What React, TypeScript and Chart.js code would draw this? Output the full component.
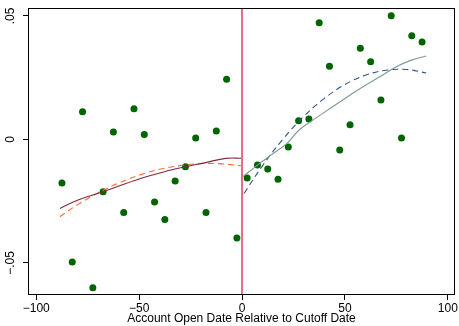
import React, { useEffect, useRef } from "react";
import { Chart, registerables } from "chart.js";

Chart.register(...registerables);

// Binned scatter (bin centres, mean outcome)
const binX = [
  -87.5, -82.5, -77.5, -72.5, -67.5, -62.5, -57.5, -52.5, -47.5, -42.5, -37.5, -32.5, -27.5, -22.5, -17.5, -12.5, -7.5, -2.5,
  2.5, 7.5, 12.5, 17.5, 22.5, 27.5, 32.5, 37.5, 42.5, 47.5, 52.5, 57.5, 62.5, 67.5, 72.5, 77.5, 82.5, 87.5,
];
const binY = [
  -0.0177, -0.0496, 0.0112, -0.0601, -0.0212, 0.003, -0.0296, 0.0124, 0.002, -0.0253, -0.0324, -0.0168, -0.0111, 0.0006, -0.0296, 0.0034, 0.0244, -0.0399,
  -0.0156, -0.0104, -0.012, -0.0161, -0.0031, 0.0075, 0.0083, 0.0472, 0.0296, -0.0043, 0.0059, 0.0369, 0.0314, 0.016, 0.0501, 0.0006, 0.042, 0.0394,
];

// Left side fits
const leftLocalX = [-88.5, -80, -67.5, -50, -35, -27.5, -19.5, -8, -0.5];
const leftLocalY = [-0.028, -0.0246, -0.0212, -0.016, -0.0125, -0.0111, -0.0097, -0.0077, -0.0076];
const leftQuadX = [-88.5, -80, -70, -60, -50, -40, -30, -20, -10, -0.5];
const leftQuadY = [-0.0313, -0.0265, -0.0217, -0.0177, -0.0145, -0.0121, -0.0106, -0.0098, -0.0099, -0.0107];

// Right side fits
const rightLocalX = [0.5, 7.5, 15, 22, 28, 36, 44, 52, 60, 68, 75, 82, 89.5];
const rightLocalY = [-0.015, -0.0104, -0.0058, -0.0015, 0.004, 0.0087, 0.0132, 0.0177, 0.0219, 0.0259, 0.0294, 0.032, 0.0338];
const rightQuadX = [1, 10, 20, 30, 40, 50, 60, 70, 80, 89.5];
const rightQuadY = [-0.0219, -0.0106, 0.0002, 0.0093, 0.0166, 0.0222, 0.026, 0.028, 0.0283, 0.0269];

// Cutoff line
const cutoffX = [0, 0];
const cutoffY = [-0.063, 0.0532];

const xTicks = [-100, -50, 0, 50, 100];
const yTicks = [-0.05, 0, 0.05];
const yTickLabels = ["\u2212.05", "0", ".05"];
const xTitle = "Account Open Date Relative to Cutoff Date";

const pts = (xs: number[], ys: number[]) => xs.map((x, i) => ({ x, y: ys[i] }));
const FONT = "'Liberation Sans', Arial, Helvetica, sans-serif";

export default function App() {
  const ref = useRef<HTMLCanvasElement | null>(null);
  useEffect(() => {
    if (!ref.current) return;
    const frame = {
      id: "frame",
      afterDatasetsDraw(chart: any) {
        const { ctx, chartArea: a } = chart;
        ctx.save();
        ctx.strokeStyle = "#000";
        ctx.lineWidth = 1;
        ctx.strokeRect(Math.round(a.left) + 0.5, Math.round(a.top) + 0.5, Math.round(a.right - a.left) - 1, Math.round(a.bottom - a.top) - 1);
        ctx.restore();
      },
    };
    const lineDs = (label: string, xs: number[], ys: number[], color: string, dash: number[], order: number) => ({
      type: "line" as const,
      label,
      data: pts(xs, ys),
      borderColor: color,
      backgroundColor: color,
      borderWidth: 1.1,
      borderDash: dash,
      pointRadius: 0,
      showLine: true,
      tension: 0.4,
      fill: false,
      order,
    });
    const chart = new Chart(ref.current, {
      type: "scatter",
      data: {
        datasets: [
          {
            label: "bins",
            data: pts(binX, binY),
            pointRadius: 3.5,
            pointBackgroundColor: "#006400",
            pointBorderColor: "#006400",
            pointBorderWidth: 0,
            showLine: false,
            order: 3,
          } as any,
          lineDs("left local", leftLocalX, leftLocalY, "#7f2a40", [], 1),
          lineDs("left quad", leftQuadX, leftQuadY, "#ff6a2a", [6, 4], 1),
          lineDs("right local", rightLocalX, rightLocalY, "#7f9a92", [], 1),
          lineDs("right quad", rightQuadX, rightQuadY, "#2f5582", [6, 4], 1),
          { ...lineDs("cutoff", cutoffX, cutoffY, "#d0103a", [], 0), tension: 0, borderWidth: 1.2 },
        ],
      },
      options: {
        animation: false,
        responsive: false,
        layout: { padding: { left: 0, top: 8, right: 3, bottom: 0 } },
        plugins: { legend: { display: false }, tooltip: { enabled: false } },
        scales: {
          x: {
            type: "linear",
            min: -104,
            max: 103.5,
            border: { display: false },
            grid: { drawOnChartArea: false, drawTicks: true, tickLength: 5, color: "#000" },
            afterBuildTicks: (s: any) => {
              s.ticks = xTicks.map((v) => ({ value: v }));
            },
            afterFit: (s: any) => {
              s.height = 31;
            },
            ticks: {
              color: "#000",
              padding: 1,
              maxRotation: 0,
              font: { family: FONT, size: 12 },
              callback: (v: any) => (Number(v) < 0 ? "\u2212" + Math.abs(Number(v)) : String(v)),
            },
            title: {
              display: true,
              text: xTitle,
              color: "#000",
              font: { family: FONT, size: 12 },
              padding: { top: 0, bottom: 0 },
            },
          },
          y: {
            type: "linear",
            min: -0.063,
            max: 0.0532,
            border: { display: false },
            grid: { drawOnChartArea: false, drawTicks: true, tickLength: 5, color: "#000" },
            afterBuildTicks: (s: any) => {
              s.ticks = yTicks.map((v) => ({ value: v }));
            },
            afterFit: (s: any) => {
              s.width = 28;
            },
            ticks: {
              color: "#000",
              padding: 0,
              minRotation: 90,
              maxRotation: 90,
              crossAlign: "center",
              font: { family: FONT, size: 12 },
              callback: (v: any) => {
                const i = yTicks.indexOf(Number(v));
                return i >= 0 ? yTickLabels[i] : "";
              },
            },
          },
        },
      },
      plugins: [frame],
    } as any);
    return () => chart.destroy();
  }, []);
  return (
    <div style={{ position: "fixed", left: 0, top: 0, width: 459, height: 326, background: "#fff" }}>
      <canvas ref={ref} width={459} height={326} />
    </div>
  );
}
